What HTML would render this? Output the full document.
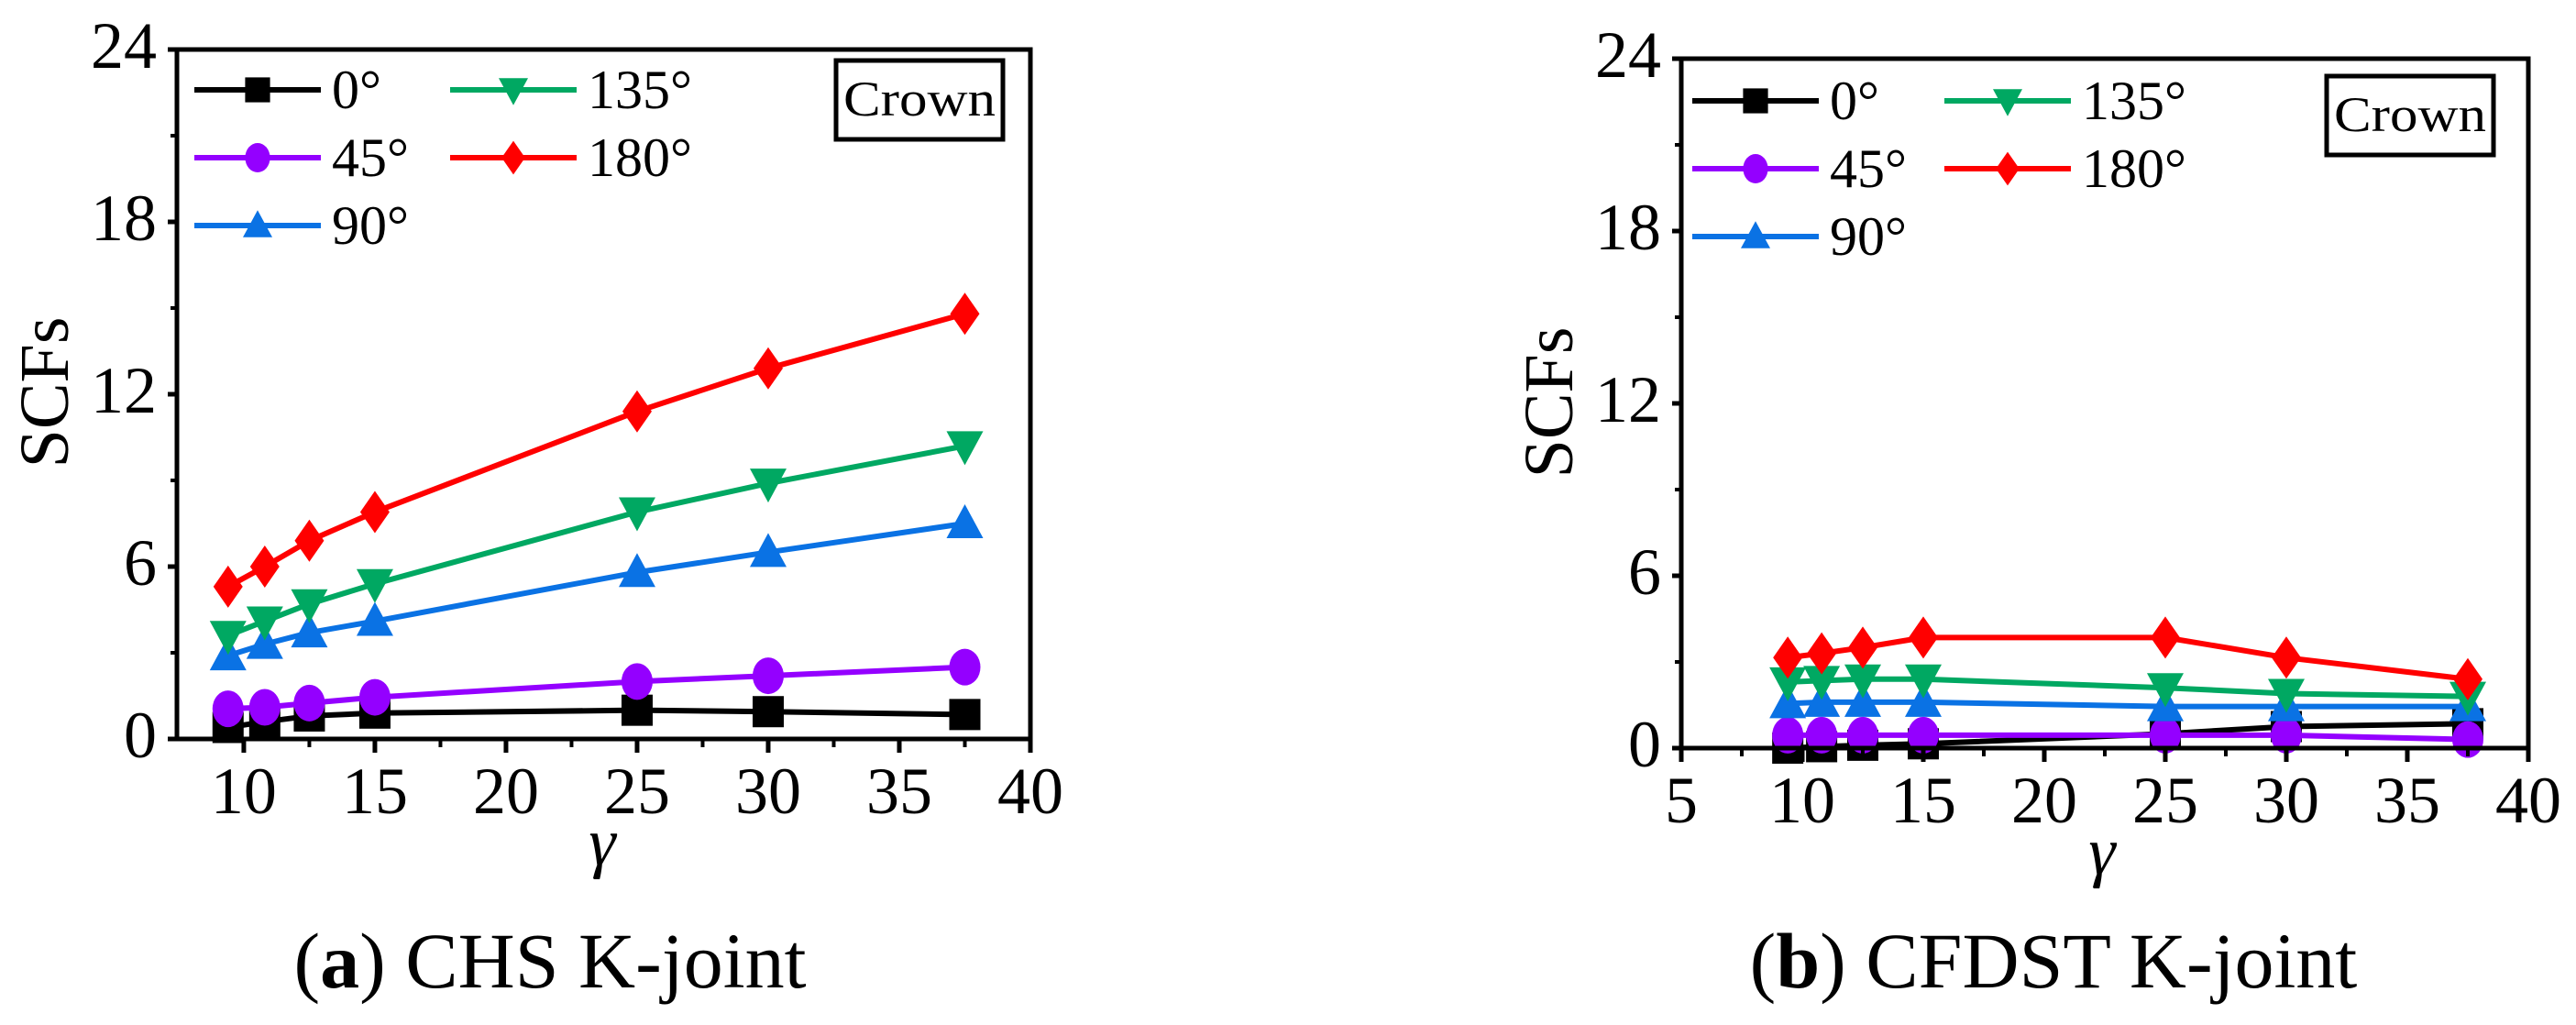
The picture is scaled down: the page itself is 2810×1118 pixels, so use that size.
<!DOCTYPE html>
<html><head><meta charset="utf-8"><style>
html,body{margin:0;padding:0;background:#fff;}
svg{display:block;}
svg text{font-family:"Liberation Serif","DejaVu Serif",serif;}
</style></head><body>
<svg id="fig" width="2810" height="1118" viewBox="0 0 2810 1118" xmlns="http://www.w3.org/2000/svg"></svg>
<script>
const xValues = [9.4, 10.8, 12.5, 15, 25, 30, 37.5];
const seriesNames = ["0°", "45°", "90°", "135°", "180°"];
const chsS0 = [0.4, 0.6, 0.8, 0.9, 1.0, 0.95, 0.85];
const chsS45 = [1.05, 1.1, 1.25, 1.45, 2.0, 2.2, 2.5];
const chsS90 = [2.9, 3.3, 3.7, 4.1, 5.8, 6.5, 7.5];
const chsS135 = [3.6, 4.1, 4.7, 5.4, 7.9, 8.9, 10.2];
const chsS180 = [5.3, 6.0, 6.9, 7.9, 11.4, 12.9, 14.8];
const cfS0 = [0.0, 0.05, 0.1, 0.15, 0.5, 0.75, 0.85];
const cfS45 = [0.45, 0.45, 0.45, 0.45, 0.45, 0.45, 0.3];
const cfS90 = [1.55, 1.6, 1.6, 1.6, 1.45, 1.45, 1.45];
const cfS135 = [2.3, 2.35, 2.4, 2.4, 2.1, 1.9, 1.8];
const cfS180 = [3.15, 3.3, 3.5, 3.85, 3.85, 3.15, 2.4];
const yTicks = [0, 6, 12, 18, 24];
const xTicksA = [10, 15, 20, 25, 30, 35, 40];
const xTicksB = [5, 10, 15, 20, 25, 30, 35, 40];

const colors = ["#000000", "#9400ff", "#0a72e4", "#00a862", "#ff0000"];
const shapes = ["square", "circle", "up", "down", "diamond"];
const NS = "http://www.w3.org/2000/svg";
const svg = document.getElementById("fig");
const FONT = '"Liberation Serif", serif';

function mk(tag, attrs, parent, text) {
  const e = document.createElementNS(NS, tag);
  for (const k in attrs) e.setAttribute(k, attrs[k]);
  if (tag === "text") e.setAttribute("font-family", FONT);
  if (text !== undefined) e.textContent = text;
  (parent || svg).appendChild(e);
  return e;
}

function marker(g, shape, cx, cy, color, r) {
  let el;
  if (shape === "square") el = mk("rect", {x: cx - r * 0.85, y: cy - r * 0.85, width: r * 1.7, height: r * 1.7, fill: color}, g);
  else if (shape === "circle") el = mk("ellipse", {cx: cx, cy: cy, rx: r * 0.85, ry: r, fill: color}, g);
  else if (shape === "up") el = mk("polygon", {points: `${cx - r},${cy + r * 0.8} ${cx + r},${cy + r * 0.8} ${cx},${cy - r * 1.05}`, fill: color}, g);
  else if (shape === "down") el = mk("polygon", {points: `${cx - r},${cy - r * 0.8} ${cx + r},${cy - r * 0.8} ${cx},${cy + r * 1.05}`, fill: color}, g);
  else el = mk("polygon", {points: `${cx},${cy - r * 1.15} ${cx + r * 0.8},${cy} ${cx},${cy + r * 1.15} ${cx - r * 0.8},${cy}`, fill: color}, g);
  
  
  return el;
}

function chart(o) {
  const g = mk("g", {});
  
  
  const xs = v => o.L + (v - o.xmin) / (o.xmax - o.xmin) * (o.R - o.L);
  const ys = v => o.B - v / 24 * (o.B - o.T);
  o.series.forEach((vals, si) => {
    const sg = mk("g", {}, g);
    
    
    const pts = vals.map((v, i) => xs(xValues[i]) + "," + ys(v)).join(" ");
    mk("polyline", {points: pts, fill: "none", stroke: colors[si], "stroke-width": 6, "stroke-linejoin": "round"}, sg);
    vals.forEach((v, i) => marker(sg, shapes[si], xs(xValues[i]), ys(v), colors[si], 20));
  });
  const fr = mk("rect", {x: o.L, y: o.T, width: o.R - o.L, height: o.B - o.T, fill: "none", stroke: "#000", "stroke-width": 5}, g);
  
  
  yTicks.forEach(t => {
    mk("line", {x1: o.L - 10, x2: o.L, y1: ys(t), y2: ys(t), stroke: "#000", "stroke-width": 5}, g);
    const lb = mk("text", {x: o.L - 22, y: ys(t) + 20, "font-size": 72, "text-anchor": "end"}, g, String(t));
    
    
  });
  for (let t = 3; t < 24; t += 6) mk("line", {x1: o.L - 7, x2: o.L, y1: ys(t), y2: ys(t), stroke: "#000", "stroke-width": 4}, g);
  o.xticks.forEach(t => {
    if (t > o.xmin - 0.01) mk("line", {x1: xs(t), x2: xs(t), y1: o.B, y2: o.B + 15, stroke: "#000", "stroke-width": 5}, g);
    const lb = mk("text", {x: xs(t), y: o.B + 81, "font-size": 72, "text-anchor": "middle"}, g, String(t));
    
    
  });
  for (let t = o.xticks[0] + 2.5; t < 40; t += 5) mk("line", {x1: xs(t), x2: xs(t), y1: o.B, y2: o.B + 9, stroke: "#000", "stroke-width": 4}, g);
  const yt = mk("text", {x: o.yTitleX, y: o.yTitleY, "font-size": 76, "text-anchor": "middle", transform: `rotate(-90 ${o.yTitleX} ${o.yTitleY})`, dy: 25}, g, "SCFs");
  
  
  const xt = mk("text", {x: o.xTitleX, y: o.xTitleY, "font-size": 74, "font-style": "italic", "text-anchor": "middle"}, g, "γ");
  
  
  const lg = mk("g", {}, g);
  
  
  const pos = [[0, 0], [0, 1], [0, 2], [1, 0], [1, 1]];
  pos.forEach((p, si) => {
    const lx = o.legX + p[0] * o.legColW, ly = o.legY + p[1] * 74;
    const e = mk("g", {}, lg);
    
    
    mk("line", {x1: lx, x2: lx + 138, y1: ly, y2: ly, stroke: colors[si], "stroke-width": 6}, e);
    marker(e, shapes[si], lx + 69, ly, colors[si], 16);
    mk("text", {x: lx + 150, y: ly + 20, "font-size": 60}, e, seriesNames[si]);
  });
  const cb = mk("g", {}, g);
  
  
  mk("rect", {x: o.cx, y: o.cy, width: 182, height: 86, fill: "#fff", stroke: "#000", "stroke-width": 5}, cb);
  mk("text", {x: o.cx + 91, y: o.cy + 60, "font-size": 54, "text-anchor": "middle", textLength: 166, lengthAdjust: "spacingAndGlyphs"}, cb, "Crown");
  const cap = mk("text", {x: o.capX, y: 1077, "font-size": 86, "text-anchor": "middle"}, g);
  
  
  mk("tspan", {}, cap, "(");
  mk("tspan", {"font-weight": "bold"}, cap, o.letter);
  mk("tspan", {}, cap, ") " + o.title);
}

chart({name: "chart-chs", L: 193, R: 1124, T: 54, B: 806, xmin: 7.45, xmax: 40, xticks: xTicksA,
  series: [chsS0, chsS45, chsS90, chsS135, chsS180],
  yTitleX: 49, yTitleY: 428, xTitleX: 657, xTitleY: 943,
  legX: 212, legY: 98, legColW: 279, cx: 912, cy: 66,
  capX: 600, letter: "a", title: "CHS K-joint"});
chart({name: "chart-cfdst", L: 1834, R: 2758, T: 64, B: 816, xmin: 5, xmax: 40, xticks: xTicksB,
  series: [cfS0, cfS45, cfS90, cfS135, cfS180],
  yTitleX: 1690, yTitleY: 439, xTitleX: 2293, xTitleY: 953,
  legX: 1846, legY: 110, legColW: 275, cx: 2538, cy: 83,
  capX: 2240, letter: "b", title: "CFDST K-joint"});
</script>
</body></html>
